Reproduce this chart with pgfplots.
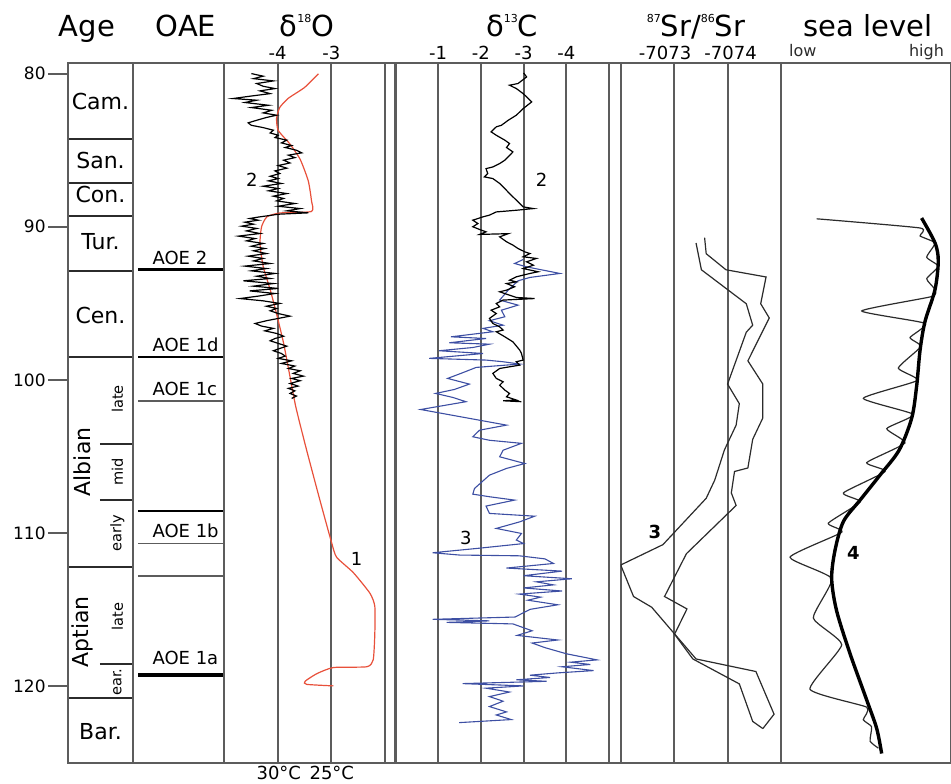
\documentclass[border=0pt]{standalone}
\usepackage{fontspec}
\setmainfont{DejaVu Sans}
\usepackage{pgfplots}
\pgfplotsset{compat=1.18}
\definecolor{fg}{HTML}{5C5C5C}
\definecolor{oxred}{HTML}{E8503A}
\definecolor{cblue}{HTML}{3D4FA3}
\definecolor{ink}{HTML}{2B2B2B}
\newcommand\fs[1]{\fontsize{#1}{#1}\selectfont}
\newcommand\sups[1]{\raisebox{0.85ex}{\fontsize{5.5}{5.5}\selectfont #1}}

\pgfplotsset{
  panel/.style={scale only axis, height=350pt, ymin=79.3, ymax=125.04, y dir=reverse,
    anchor=north west, axis line style={draw=fg, line width=1.05pt}, ytick=\empty,
    major tick length=0pt, xticklabel pos=upper, xmajorgrids,
    grid style={draw=fg, line width=1.05pt},
    xticklabel style={font=\fs{9}, inner sep=1.5pt}},
  stage/.style={draw=ink, line width=1pt},
}

\begin{document}
\begin{tikzpicture}
\useasboundingbox (0,0) rectangle (475.5pt,-391.5pt);

% titles
\node[anchor=base, font=\fs{14.5}] at (43.4pt,-18pt) {Age};
\node[anchor=base, font=\fs{14.5}] at (93pt,-18pt) {OAE};
\node[anchor=base, font=\fs{14.5}] at (153.5pt,-18pt) {δ\sups{18}O};
\node[anchor=base, font=\fs{14.5}] at (256pt,-18pt) {δ\sups{13}C};
\node[anchor=base, font=\fs{14.5}] at (348pt,-18pt) {\sups{87}Sr/\sups{86}Sr};
\node[anchor=base, font=\fs{14.5}] at (434pt,-18pt) {sea level};

% age column
\begin{axis}[panel, at={(34pt,-31.5pt)}, width=32.5pt, xmin=0, xmax=1, xtick=\empty, xmajorgrids=false,
  ytick={80,90,100,110,120}, yticklabels={80,90,100,110,120}, ytick pos=left, tick align=outside,
  major tick length=10pt, tick style={draw=fg, line width=1pt},
  yticklabel style={font=\fs{8.5}, inner sep=1pt}]
\addplot[stage] coordinates {(0,84.28) (1,84.28)};
\addplot[stage] coordinates {(0,87.11) (1,87.11)};
\addplot[stage] coordinates {(0,89.29) (1,89.29)};
\addplot[stage] coordinates {(0,92.88) (1,92.88)};
\addplot[stage] coordinates {(0,98.50) (1,98.50)};
\addplot[stage] coordinates {(0,112.21) (1,112.21)};
\addplot[stage] coordinates {(0,120.77) (1,120.77)};
\addplot[stage] coordinates {(0.49,104.22) (1,104.22)};
\addplot[stage] coordinates {(0.49,107.86) (1,107.86)};
\addplot[stage] coordinates {(0.49,118.59) (1,118.59)};
\node[font=\fs{11}] at (axis cs:0.5,81.84) {Cam.};
\node[font=\fs{11}] at (axis cs:0.5,85.65) {San.};
\node[font=\fs{11}] at (axis cs:0.5,87.90) {Con.};
\node[font=\fs{11}] at (axis cs:0.5,90.99) {Tur.};
\node[font=\fs{11}] at (axis cs:0.5,95.77) {Cen.};
\node[font=\fs{11}] at (axis cs:0.5,122.99) {Bar.};
\node[font=\fs{11}, rotate=90] at (axis cs:0.22,105.36) {Albian};
\node[font=\fs{11}, rotate=90] at (axis cs:0.22,116.46) {Aptian};
\node[font=\fs{7.3}, rotate=90] at (axis cs:0.76,101.26) {late};
\node[font=\fs{7.3}, rotate=90] at (axis cs:0.76,106.03) {mid};
\node[font=\fs{7.3}, rotate=90] at (axis cs:0.76,110.01) {early};
\node[font=\fs{7.3}, rotate=90] at (axis cs:0.76,115.48) {late};
\node[font=\fs{7.3}, rotate=90] at (axis cs:0.76,119.75) {ear.};
\end{axis}

% OAE column
\begin{axis}[panel, at={(66.5pt,-31.5pt)}, width=45.5pt, xmin=0, xmax=1, xtick=\empty, xmajorgrids=false]
\addplot[black, line width=1.4pt] coordinates {(0.055,92.79) (1,92.79)};
\addplot[black, line width=1pt] coordinates {(0.055,98.50) (1,98.50)};
\addplot[fg, line width=0.8pt] coordinates {(0.055,101.37) (1,101.37)};
\addplot[black, line width=1pt] coordinates {(0.055,108.56) (1,108.56)};
\addplot[fg, line width=0.8pt] coordinates {(0.055,110.69) (1,110.69)};
\addplot[fg, line width=0.8pt] coordinates {(0.055,112.82) (1,112.82)};
\addplot[black, line width=2pt] coordinates {(0.055,119.29) (1,119.29)};
\node[anchor=base west, inner sep=0pt, font=\fs{9}] at (axis cs:0.21,92.45) {AOE 2};
\node[anchor=base west, inner sep=0pt, font=\fs{9}] at (axis cs:0.21,98.15) {AOE 1d};
\node[anchor=base west, inner sep=0pt, font=\fs{9}] at (axis cs:0.21,101.03) {AOE 1c};
\node[anchor=base west, inner sep=0pt, font=\fs{9}] at (axis cs:0.21,110.33) {AOE 1b};
\node[anchor=base west, inner sep=0pt, font=\fs{9}] at (axis cs:0.21,118.60) {AOE 1a};
\end{axis}

% d18O
\begin{axis}[panel, at={(112pt,-31.5pt)}, width=80.5pt, xmin=-5, xmax=-2,
  xtick={-4,-3}, xticklabels={-4,-3}]
\addplot[oxred, line width=0.6pt, smooth, tension=0.35] coordinates {
(-3.24,80.0) (-3.50,80.9) (-3.80,81.6) (-3.96,82.2) (-4.02,82.9) (-3.99,83.7) (-3.77,84.6)
(-3.58,85.6) (-3.43,87.0) (-3.37,88.3) (-3.37,89.0) (-3.96,89.1) (-4.20,89.35) (-4.30,90.0)
(-4.33,91.1) (-4.27,92.6) (-4.14,94.1) (-4.02,95.7) (-3.89,97.6) (-3.77,99.8) (-3.66,101.8)
(-3.46,104.6) (-3.21,107.9) (-2.99,110.7) (-2.90,111.6) (-2.59,112.6) (-2.28,113.95)
(-2.19,114.8) (-2.19,116.6) (-2.22,118.3) (-2.34,118.75) (-2.96,118.8) (-3.27,119.2)
(-3.49,119.7) (-3.46,119.9) (-2.96,120.0)};
\addplot[black, line width=0.6pt] coordinates {
(-4.49,79.99) (-4.27,80.16) (-4.45,80.32) (-4.08,80.47) (-4.39,80.64) (-4.27,80.82) (-4.05,80.97)
(-4.33,81.12) (-4.14,81.30) (-4.52,81.47) (-4.83,81.62) (-4.39,81.73) (-4.61,81.88) (-4.17,82.06)
(-4.49,82.21) (-4.11,82.39) (-4.27,82.56) (-4.02,82.71) (-4.21,82.86) (-4.39,83.04) (-4.55,83.21)
(-4.49,83.37) (-4.27,83.52) (-4.08,83.69) (-4.14,83.87) (-3.99,84.02) (-4.05,84.17) (-3.83,84.34)
(-3.93,84.52) (-3.74,84.69) (-3.86,84.82) (-3.65,85.00) (-3.55,85.17) (-3.80,85.32) (-3.68,85.48)
(-3.89,85.65) (-3.77,85.83) (-3.99,86.00) (-3.83,86.17) (-4.05,86.35) (-3.96,86.52) (-4.14,86.70)
(-3.99,86.85) (-4.17,87.00) (-3.93,87.17) (-4.27,87.35) (-3.99,87.50) (-4.17,87.65) (-3.83,87.83)
(-4.08,88.00) (-3.89,88.15) (-4.02,88.31) (-3.68,88.48) (-3.99,88.66) (-3.58,88.81) (-3.83,88.96)
(-3.43,89.09) (-3.99,89.18) (-4.14,89.26) (-4.33,89.35) (-4.52,89.46) (-4.36,89.57) (-4.61,89.70)
(-4.45,89.83) (-4.67,89.96) (-4.39,90.11) (-4.58,90.27) (-4.33,90.44) (-4.73,90.61) (-4.42,90.77)
(-4.58,90.92) (-4.27,91.09) (-4.49,91.27) (-4.24,91.42) (-4.45,91.57) (-4.21,91.75) (-4.55,91.92)
(-4.27,92.07) (-4.45,92.23) (-4.14,92.40) (-4.61,92.57) (-4.21,92.73) (-4.49,92.88) (-4.05,93.05)
(-4.39,93.23) (-4.14,93.38) (-4.64,93.53) (-4.08,93.71) (-4.45,93.88) (-3.99,94.03) (-4.52,94.19)
(-4.05,94.36) (-4.36,94.53) (-4.70,94.69) (-4.27,94.84) (-3.96,95.01) (-4.21,95.19) (-4.02,95.34)
(-4.14,95.49) (-3.99,95.67) (-3.77,95.84) (-3.99,95.99) (-4.21,96.14) (-4.42,96.32) (-4.30,96.49)
(-4.08,96.64) (-4.24,96.80) (-4.02,96.97) (-3.89,97.15) (-4.05,97.30) (-4.14,97.45) (-3.99,97.62)
(-3.83,97.80) (-3.96,97.95) (-4.08,98.10) (-3.93,98.28) (-3.86,98.45) (-3.99,98.60) (-3.74,98.76)
(-3.93,98.93) (-3.68,99.10) (-3.80,99.26) (-3.58,99.41) (-3.71,99.58) (-3.52,99.76) (-3.74,99.91)
(-3.58,100.06) (-3.77,100.24) (-3.62,100.41) (-3.80,100.56) (-3.68,100.72) (-3.77,100.89)
(-3.65,101.06) (-3.74,101.22)};
\node[font=\fs{9}] at (axis cs:-4.48,86.96) {2};
\node[font=\fs{9}] at (axis cs:-2.53,111.71) {1};
\end{axis}
\node[anchor=base, font=\fs{9}] at (139.4pt,-389.5pt) {30°C};
\node[anchor=base, font=\fs{9}] at (165.9pt,-389.5pt) {25°C};

% d13C
\begin{axis}[panel, at={(197.75pt,-31.5pt)}, width=106.75pt, xmin=-5, xmax=0, x dir=reverse,
  xtick={-4,-3,-2,-1}, xticklabels={-4,-3,-2,-1}]
\addplot[cblue, line width=0.55pt] coordinates {
(-2.99,92.14) (-2.79,92.40) (-3.07,92.62) (-3.85,93.05) (-3.15,93.31) (-2.87,93.53) (-2.64,94.14)
(-2.44,94.79) (-2.87,95.12) (-2.48,95.45) (-2.56,95.88) (-2.20,96.14) (-2.52,96.43) (-2.05,96.64)
(-2.28,96.86) (-1.30,97.19) (-2.12,97.30) (-1.26,97.58) (-2.20,97.67) (-1.81,97.89) (-1.02,98.10)
(-2.05,98.28) (-0.79,98.60) (-2.12,98.71) (-2.52,98.82) (-2.91,98.97) (-1.89,99.19) (-1.57,99.54)
(-1.22,99.91) (-1.73,100.28) (-1.38,100.63) (-0.94,100.89) (-1.34,101.15) (-1.65,101.43)
(-0.59,101.94) (-2.60,102.96) (-1.97,103.29) (-1.81,103.72) (-2.20,103.95) (-2.95,104.15)
(-2.52,104.60) (-2.44,105.03) (-3.03,105.47) (-2.60,105.79) (-2.20,106.23) (-1.85,107.10)
(-1.81,107.47) (-2.20,107.64) (-2.79,107.86) (-2.48,108.04) (-2.12,108.25) (-2.20,108.73)
(-3.26,108.91) (-2.91,109.28) (-2.36,109.71) (-2.95,110.04) (-2.83,110.47) (-3.00,110.70)
(-1.97,111.00) (-0.87,111.30) (-1.50,111.45) (-2.90,111.50) (-3.50,111.70) (-3.70,112.00)
(-2.60,112.30) (-3.90,112.50) (-3.00,112.80) (-4.13,113.00) (-3.30,113.20) (-3.70,113.40)
(-3.00,113.60) (-3.90,113.80) (-2.90,114.00) (-3.40,114.20) (-3.10,114.40) (-3.80,114.70)
(-3.15,115.00) (-2.80,115.50) (-0.87,115.65) (-2.20,115.75) (-1.20,115.85) (-2.75,115.95)
(-3.00,116.20) (-3.20,116.40) (-2.85,116.70) (-3.80,117.00) (-3.20,117.20) (-3.50,117.50)
(-4.00,117.90) (-4.72,118.30) (-4.10,118.45) (-4.56,118.60) (-3.90,118.75) (-4.64,119.00)
(-3.80,119.15) (-3.15,119.30) (-3.62,119.45) (-2.83,119.60) (-3.54,119.70) (-1.57,119.85)
(-3.00,120.00) (-2.12,120.15) (-2.67,120.40) (-2.20,120.70) (-2.52,121.00) (-2.20,121.35)
(-2.60,121.70) (-2.36,121.90) (-2.71,122.20) (-1.49,122.40)};
\addplot[black, line width=0.6pt] coordinates {
(-3.00,79.95) (-3.07,80.21) (-2.87,80.64) (-2.67,80.75) (-2.83,80.97) (-2.99,81.30) (-3.07,81.51)
(-3.19,81.84) (-2.99,82.28) (-2.83,82.71) (-2.64,83.04) (-2.48,83.37) (-2.36,83.47) (-2.24,83.80)
(-2.36,84.02) (-2.56,84.34) (-2.67,84.56) (-2.60,84.82) (-2.75,85.11) (-2.64,85.43) (-2.56,85.65)
(-2.44,85.87) (-2.28,86.09) (-2.12,86.20) (-2.16,86.52) (-2.08,86.74) (-2.28,86.85) (-2.44,87.17)
(-2.56,87.50) (-2.67,87.83) (-2.83,88.26) (-2.99,88.70) (-3.23,88.81) (-2.83,88.92) (-2.36,89.03)
(-2.20,89.24) (-2.05,89.35) (-1.81,89.57) (-1.93,89.79) (-1.81,90.00) (-2.01,90.22) (-2.12,90.33)
(-1.97,90.50) (-2.64,90.45) (-2.44,90.66) (-2.60,90.98) (-2.75,91.20) (-2.87,91.42) (-3.03,91.64)
(-3.15,91.75) (-2.99,91.96) (-3.30,92.07) (-3.07,92.29) (-3.23,92.51) (-2.99,92.73) (-3.34,92.94)
(-3.15,93.05) (-2.83,93.27) (-2.67,93.49) (-2.83,93.60) (-2.60,93.71) (-2.79,93.92) (-2.60,94.14)
(-2.44,94.25) (-2.67,94.47) (-2.83,94.62) (-3.26,94.69) (-2.52,94.79) (-2.36,95.01) (-2.44,95.23)
(-2.24,95.45) (-2.36,95.67) (-2.20,95.99) (-2.28,96.32) (-2.44,96.54) (-2.52,96.75) (-2.36,96.86)
(-2.56,97.19) (-2.75,97.52) (-2.91,98.06) (-2.95,98.28) (-2.99,98.71) (-2.83,98.82) (-2.91,99.04)
(-2.67,99.15) (-2.44,99.26) (-2.28,99.58) (-2.36,99.91) (-2.52,100.13) (-2.44,100.35) (-2.56,100.67)
(-2.67,100.89) (-2.60,101.11) (-2.83,101.32) (-2.52,101.37) (-2.95,101.43)};
\node[font=\fs{9}] at (axis cs:-3.42,86.96) {2};
\node[font=\fs{9}] at (axis cs:-1.65,110.36) {3};
\end{axis}

% 87Sr/86Sr
\begin{axis}[panel, at={(310.35pt,-31.5pt)}, width=80.15pt, xmin=0, xmax=3,
  xtick={1,2}, xticklabels={-7073\kern9pt,\kern3pt-7074}]
\addplot[ink, line width=0.6pt] coordinates {
(1.57,90.71) (1.60,91.76) (1.97,92.81) (2.72,93.28) (2.62,95.03) (2.78,95.96) (2.38,98.76)
(2.66,100.28) (2.66,102.49) (2.47,103.89) (2.38,105.76) (2.13,105.99) (2.07,107.39) (2.16,108.21)
(1.23,111.36) (0.82,114.16) (1.24,114.97) (1.01,116.61) (1.41,118.24) (2.53,119.06) (2.87,121.85)
(2.66,122.79)};
\addplot[ink, line width=0.6pt] coordinates {
(1.41,91.06) (1.51,92.81) (2.35,95.03) (2.47,96.43) (2.35,96.89) (2.00,100.28) (2.22,101.56)
(2.16,102.96) (1.94,104.59) (1.76,106.55) (1.60,107.74) (0.79,110.77) (0.00,112.10) (0.24,114.16)
(0.58,114.86) (0.98,116.49) (1.35,118.24) (2.22,119.87) (2.47,122.32) (2.66,122.79)};
\node[font=\bfseries\fs{9}] at (axis cs:0.64,109.93) {3};
\end{axis}

% sea level
\begin{axis}[panel, at={(390.5pt,-31.5pt)}, width=85pt, xmin=0, xmax=10, xtick=\empty, xmajorgrids=false]
\addplot[ink, line width=0.6pt, smooth, tension=0.3] coordinates {
(2.10,89.48) (8.18,90.08) (8.18,90.60) (9.06,91.06) (8.57,91.99) (9.26,92.58) (8.57,93.40)
(9.06,94.10) (8.86,94.56) (4.75,95.50) (8.47,96.31) (7.59,97.24) (8.22,97.83) (6.90,99.23)
(8.02,100.04) (4.84,101.21) (7.78,102.26) (6.22,103.19) (7.29,104.13) (5.04,105.41) (6.12,105.99)
(3.67,107.39) (4.65,107.98) (2.78,109.37) (3.57,109.96) (0.53,111.59) (2.98,112.99) (1.90,115.56)
(3.57,117.31) (1.71,120.22) (5.04,121.39) (4.84,122.21) (5.33,122.67) (5.24,123.61) (5.73,124.07)};
\addplot[black, line width=1.7pt, smooth] coordinates {
(8.27,89.43) (9.06,91.06) (9.25,92.23) (9.06,94.10) (8.47,96.19) (8.18,98.06) (7.98,100.39)
(7.69,102.49) (6.95,104.59) (5.82,106.23) (4.65,107.86) (3.67,109.26) (3.18,111.12) (2.98,112.99)
(3.27,115.09) (4.06,117.89) (5.04,120.92) (5.63,122.79) (5.92,124.42)};
\node[font=\bfseries\fs{9}] at (axis cs:4.25,111.34) {4};
\end{axis}
\node[anchor=base west, font=\fs{8}, text=ink] at (391pt,-28pt) {low};
\node[anchor=base east, font=\fs{8}, text=ink] at (475.5pt,-28pt) {high};

\draw[fg, line width=1.05pt] (34pt,-31.5pt) rectangle (475.5pt,-381.5pt);
\end{tikzpicture}
\end{document}
